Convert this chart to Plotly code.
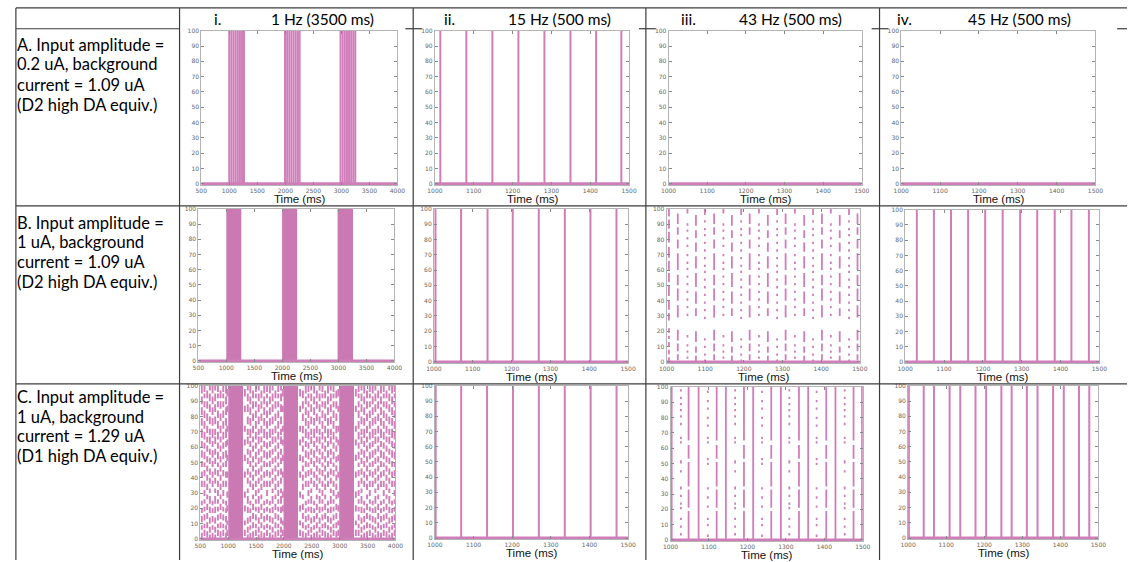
import plotly.graph_objects as go

# ---------------- text ----------------
COLUMN_NUMERALS = ["i.", "ii.", "iii.", "iv."]
COLUMN_TITLES = ["1 Hz (3500 ms)", "15 Hz (500 ms)", "43 Hz (500 ms)", "45 Hz (500 ms)"]
ROW_LABELS = [
    ["A. Input amplitude =", "0.2 uA, background", "current = 1.09 uA", "(D2 high DA equiv.)"],
    ["B. Input amplitude =", "1 uA, background", "current = 1.09 uA", "(D2 high DA equiv.)"],
    ["C. Input amplitude =", "1 uA, background", "current = 1.29 uA", "(D1 high DA equiv.)"],
]
X_TITLE = "Time (ms)"

# ---------------- axes ----------------
TIME_RANGE_LONG = [500, 4000]
TIME_RANGE_SHORT = [1000, 1500]
TIME_TICKS_LONG = [500, 1000, 1500, 2000, 2500, 3000, 3500, 4000]
TIME_TICKS_SHORT = [1000, 1100, 1200, 1300, 1400, 1500]
NEURON_TICKS = [0, 10, 20, 30, 40, 50, 60, 70, 80, 90, 100]
NEURON_TOP = 100
BASELINE_NEURON = 0

# ---------------- spikes ----------------
# population volleys: every neuron (0..100) fires at these times
A1_VOLLEYS = [1000, 1038, 1076, 1114, 1152, 1190, 1228, 1262,
              1995, 2033, 2071, 2109, 2147, 2185, 2223, 2255,
              2985, 3023, 3061, 3099, 3137, 3175, 3213, 3248]
A2_VOLLEYS = [1014, 1081, 1148, 1215, 1282, 1349, 1415, 1480]
A3_VOLLEYS = []
A4_VOLLEYS = []
B2_VOLLEYS = [1004, 1070, 1138, 1203, 1270, 1337, 1403, 1470]
B4_VOLLEYS = [1030, 1074, 1118, 1162, 1206, 1251, 1296, 1340, 1385, 1428, 1473]
C2_VOLLEYS = [1002, 1068, 1135, 1202, 1269, 1336, 1403, 1470]
C4_VOLLEYS = [1002, 1041, 1068, 1109, 1137, 1177, 1205, 1245, 1272, 1312,
              1340, 1381, 1409, 1449, 1476]

# dense bursts (continuous firing of the whole population)
B1_BURST_ON = [1000, 1995, 2985]
B1_BURST_OFF = [1268, 2263, 3260]
C1_BURST_ON = [1002, 1993, 2991]
C1_BURST_OFF = [1267, 2253, 3257]

# partial columns: (time, pattern) where patterns list the neuron runs that fire
B3_PATTERNS = {
    "open": [(0, 3), (5, 8), (10, 13), (15, 17), (19, 22), (27, 32), (34, 40), (43, 50),
             (52, 58), (60, 66), (68, 75), (78, 85), (87, 93), (95, 100)],
    "x1": [(1, 5), (7, 12), (14, 21), (29, 37), (40, 48), (50, 57), (60, 71), (74, 80),
           (83, 88), (90, 97)],
    "x2": [(0, 4), (6, 10), (13, 20), (30, 35), (38, 46), (49, 58), (61, 69), (72, 78),
           (81, 86), (89, 96)],
    "y1": [(97, 100), (89, 90.5), (85, 86.5), (80, 81.5), (75, 76.5), (69, 70.5), (64, 65.5),
           (60, 61.5), (55, 56.5), (50, 51.5), (45, 46.5), (40, 41.5), (35, 36.5),
           (30, 31.5), (16, 17.5), (10, 11.5), (6, 7.5), (2, 3.5)],
    "y2": [(96, 100), (91, 92.5), (86, 87.5), (82, 83.5), (77, 78.5), (72, 73.5),
           (67, 68.5), (62, 63.5), (58, 59.5), (53, 54.5), (48, 49.5), (43, 44.5),
           (38, 39.5), (33, 34.5), (28, 29.5), (14, 15.5), (9, 10.5), (4, 5.5), (0, 1.5)],
}
B3_TIMES = [1006, 1029, 1054, 1076, 1099, 1123, 1147, 1169, 1193, 1215, 1239,
            1262, 1286, 1308, 1332, 1356, 1379, 1402, 1425, 1448, 1472, 1494]
B3_KINDS = ["open", "x1", "y1", "x2", "y2", "x1", "y1", "x2", "y2", "x1", "y1",
            "x2", "y2", "x1", "y1", "x2", "y2", "x1", "y1", "x2", "y2", "x1"]

C3_PATTERNS = {
    "full": [(0, 100)],
    "gap": [(0, 19), (21, 33), (35, 51), (53, 62), (65, 100)],
    "s1": [(3, 4.5), (8, 9.5), (13, 14.5), (20, 21.5), (23, 24.5), (28, 29.5), (33, 35),
           (44, 45.5), (50, 52), (63, 64.5), (66, 67.5), (75, 76.5), (80, 81.5),
           (84, 85.5), (88, 89.5), (92, 93.5), (97, 98.5)],
    "s2": [(2, 3.5), (9, 10.5), (13, 14.5), (21, 22.5), (27, 28.5), (33, 34.5),
           (49, 50.5), (52, 53.5), (63, 64.5), (66, 67.5), (74, 75.5), (79, 80.5),
           (85, 86.5), (90, 91.5), (96, 97.5)],
}
C3_TIMES = [1003, 1027, 1047, 1073, 1097, 1120, 1144, 1168, 1191, 1215, 1238,
            1262, 1287, 1309, 1334, 1358, 1380, 1405, 1429, 1453, 1476, 1498]
C3_KINDS = ["full", "s1", "gap", "full", "s2", "gap", "full", "s1", "gap", "full", "s2",
            "gap", "full", "s1", "gap", "full", "s2", "gap", "full", "s1", "gap", "full"]

C1_PATTERNS = {
    "p0": [(0, 4), (6, 9), (11, 15), (17, 20), (22, 25), (34, 38), (40, 44), (47, 51),
           (53, 58), (60, 64), (66, 72), (74, 79), (81, 86), (88, 93), (95, 100)],
    "p1": [(1, 5), (7, 11), (13, 17), (19, 23), (26, 29), (32, 36), (38, 42), (44, 48),
           (50, 54), (57, 61), (63, 67), (69, 74), (77, 82), (85, 90), (92, 97)],
    "p2": [(0, 3), (4, 8), (10, 14), (17, 21), (23, 28), (30, 33), (36, 40), (42, 46),
           (49, 53), (55, 59), (62, 67), (68, 72), (75, 80), (83, 88), (90, 95), (97, 100)],
    "p3": [(2, 6), (7, 10), (12, 16), (18, 21), (23, 26), (28, 32), (34, 38), (41, 45),
           (47, 50), (52, 57), (59, 63), (65, 70), (72, 77), (79, 84), (86, 90),
           (92, 95), (96, 100)],
    "p4": [(2, 6), (9, 12), (18, 22), (27, 31), (40, 44), (51, 55), (61, 65), (70, 74),
           (83, 87), (93, 98)],
}
C1_TIMES = [528, 576, 625, 672, 721, 768, 817, 864, 913, 962, 985,
            1300, 1352, 1398, 1447, 1497, 1548, 1596, 1647, 1697, 1748, 1797, 1848, 1898, 1948, 1980,
            2290, 2340, 2392, 2440, 2490, 2542, 2590, 2640, 2691, 2740, 2790, 2841, 2890, 2940, 2975,
            3290, 3340, 3391, 3440, 3490, 3540, 3592, 3640, 3690, 3741, 3790, 3840, 3890, 3940, 3985]
C1_KINDS = ["p0", "p3", "p1", "p2", "p0", "p2", "p3", "p1", "p3", "p0", "p4",
            "p4", "p2", "p0", "p1", "p3", "p2", "p1", "p0", "p3", "p0", "p2", "p1", "p3", "p2", "p4",
            "p4", "p1", "p0", "p3", "p2", "p0", "p1", "p2", "p3", "p1", "p0", "p2", "p3", "p1", "p4",
            "p4", "p3", "p2", "p0", "p1", "p3", "p0", "p2", "p1", "p0", "p3", "p1", "p2", "p0", "p3"]

# ---------------- styling ----------------
W, H = 1135, 562
SPIKE = "#D07EB9"
BURST = "#CB79B3"
FRAME = "#b4b4b4"
TICKFONT = dict(family="DejaVu Sans", size=6, color="#666666")
TABLE_FONT = dict(family="Lato", size=15.5, color="#000000")
LABEL_FONT = dict(family="Lato", size=16.5, color="#000000")

# plot areas in pixels: left, right, top, bottom
PANEL_PX = [
    [(196, 395, 27, 183), (433, 630, 27, 183), (670, 866, 27, 183), (906, 1103, 27, 183)],
    [(193, 392, 207, 362), (432, 629, 207, 363), (668, 864, 207, 363), (910, 1107, 208, 363)],
    [(195, 393, 386, 542), (433, 629, 386, 541), (672, 867, 387, 543), (913, 1106, 386, 541)],
]


def px_x(x):
    return x / W


def px_y(y):
    return 1 - y / H


fig = go.Figure()


def axis_ids(r, c):
    n = r * 4 + c + 1
    s = "" if n == 1 else str(n)
    return "x" + s, "y" + s, "xaxis" + s, "yaxis" + s


def add_columns(r, c, times, runs_per_time, width=1.8, color=SPIKE):
    xa, ya, _, _ = axis_ids(r, c)
    xs, ys = [], []
    for t, runs in zip(times, runs_per_time):
        for a, b in runs:
            xs += [t, t, None]
            ys += [a, b, None]
    if xs:
        fig.add_trace(go.Scatter(x=xs, y=ys, mode="lines", xaxis=xa, yaxis=ya,
                                 line=dict(color=color, width=width), hoverinfo="skip"))


def add_volleys(r, c, times, width=2.0):
    add_columns(r, c, times, [[(BASELINE_NEURON, NEURON_TOP)]] * len(times), width=width)


def add_bursts(r, c, ons, offs):
    xa, ya, _, _ = axis_ids(r, c)
    xs, ys = [], []
    for a, b in zip(ons, offs):
        xs += [a, b, b, a, a, None]
        ys += [BASELINE_NEURON, BASELINE_NEURON, NEURON_TOP, NEURON_TOP, BASELINE_NEURON, None]
    fig.add_trace(go.Scatter(x=xs, y=ys, mode="lines", fill="toself", fillcolor=BURST,
                             line=dict(width=0, color=BURST), xaxis=xa, yaxis=ya,
                             hoverinfo="skip"))


def add_baseline(r, c, trange):
    xa, ya, _, _ = axis_ids(r, c)
    fig.add_trace(go.Scatter(x=trange, y=[BASELINE_NEURON, BASELINE_NEURON], mode="lines",
                             xaxis=xa, yaxis=ya, line=dict(color=SPIKE, width=3),
                             hoverinfo="skip"))


# row A
add_volleys(0, 0, A1_VOLLEYS, width=2.0)
add_volleys(0, 1, A2_VOLLEYS)
add_volleys(0, 2, A3_VOLLEYS)
add_volleys(0, 3, A4_VOLLEYS)
# row B
add_bursts(1, 0, B1_BURST_ON, B1_BURST_OFF)
add_volleys(1, 1, B2_VOLLEYS)
add_columns(1, 2, B3_TIMES, [B3_PATTERNS[k] for k in B3_KINDS])
add_volleys(1, 3, B4_VOLLEYS)
# row C
add_columns(2, 0, C1_TIMES, [C1_PATTERNS[k] for k in C1_KINDS], width=1.9)
add_bursts(2, 0, C1_BURST_ON, C1_BURST_OFF)
add_volleys(2, 1, C2_VOLLEYS)
add_columns(2, 2, C3_TIMES, [C3_PATTERNS[k] for k in C3_KINDS])
add_volleys(2, 3, C4_VOLLEYS)

layout = dict(width=W, height=H, margin=dict(l=0, r=0, t=0, b=0),
              paper_bgcolor="white", plot_bgcolor="white", showlegend=False)
annotations = []

for r in range(3):
    for c in range(4):
        left, right, top, bottom = PANEL_PX[r][c]
        _, _, xkey, ykey = axis_ids(r, c)
        xa, ya, _, _ = axis_ids(r, c)
        trange = TIME_RANGE_LONG if c == 0 else TIME_RANGE_SHORT
        tticks = TIME_TICKS_LONG if c == 0 else TIME_TICKS_SHORT
        add_baseline(r, c, trange)
        layout[xkey] = dict(domain=[px_x(left), px_x(right)], anchor=ya, range=trange,
                            tickvals=tticks, ticks="inside", ticklen=3, tickcolor="#888",
                            showline=True, linecolor=FRAME, linewidth=1, mirror="ticks",
                            showgrid=False, zeroline=False, tickfont=TICKFONT,
                            fixedrange=True)
        layout[ykey] = dict(domain=[px_y(bottom), px_y(top)], anchor=xa, range=[-0.8, 100],
                            tickvals=NEURON_TICKS, ticks="inside", ticklen=3, tickcolor="#888",
                            showline=True, linecolor=FRAME, linewidth=1, mirror="ticks",
                            showgrid=False, zeroline=False, tickfont=TICKFONT,
                            fixedrange=True)
        annotations.append(dict(text=X_TITLE, xref="paper", yref="paper",
                                x=px_x((left + right) / 2), y=px_y(bottom + 14),
                                xanchor="center", yanchor="middle", showarrow=False,
                                font=dict(family="Liberation Sans", size=11.5, color="#111")))

# column headers
NUMERAL_X = [213, 448, 690, 909]
TITLE_X = [319, 559, 794, 1026]
for c in range(4):
    annotations.append(dict(text=COLUMN_NUMERALS[c], xref="paper", yref="paper",
                            x=px_x(NUMERAL_X[c]), y=px_y(15), xanchor="center",
                            yanchor="middle", showarrow=False, font=TABLE_FONT))
    annotations.append(dict(text=COLUMN_TITLES[c], xref="paper", yref="paper",
                            x=px_x(TITLE_X[c]), y=px_y(15), xanchor="center",
                            yanchor="middle", showarrow=False, font=TABLE_FONT))

# row labels
ROW_LINE_Y = [[41, 61, 82, 102], [221, 241, 261, 281], [397, 417, 437, 457]]
for r in range(3):
    for i, line in enumerate(ROW_LABELS[r]):
        annotations.append(dict(text=line, xref="paper", yref="paper", x=px_x(7),
                                y=px_y(ROW_LINE_Y[r][i]), xanchor="left", yanchor="middle",
                                showarrow=False, font=LABEL_FONT))

layout["annotations"] = annotations

# table rules
RULE = dict(color="#3c3c3c", width=1.2)
shapes = []


def hline(y, x0, x1):
    shapes.append(dict(type="line", xref="paper", yref="paper", x0=px_x(x0), x1=px_x(x1),
                       y0=px_y(y), y1=px_y(y), line=RULE, layer="above"))


def vline(x, y0, y1):
    shapes.append(dict(type="line", xref="paper", yref="paper", x0=px_x(x), x1=px_x(x),
                       y0=px_y(y0), y1=px_y(y1), line=RULE, layer="above"))


hline(4, 8, 1135)
for x0, x1 in [(8, 174), (403, 420), (640, 657), (876, 893), (1125, 1135)]:
    hline(25, x0, x1)
hline(204, 8, 1135)
hline(384, 8, 1135)
for x in [8, 174, 411, 647, 884]:
    vline(x, 4, 562)
layout["shapes"] = shapes

fig.update_layout(**layout)
fig.write_html("out.html")
